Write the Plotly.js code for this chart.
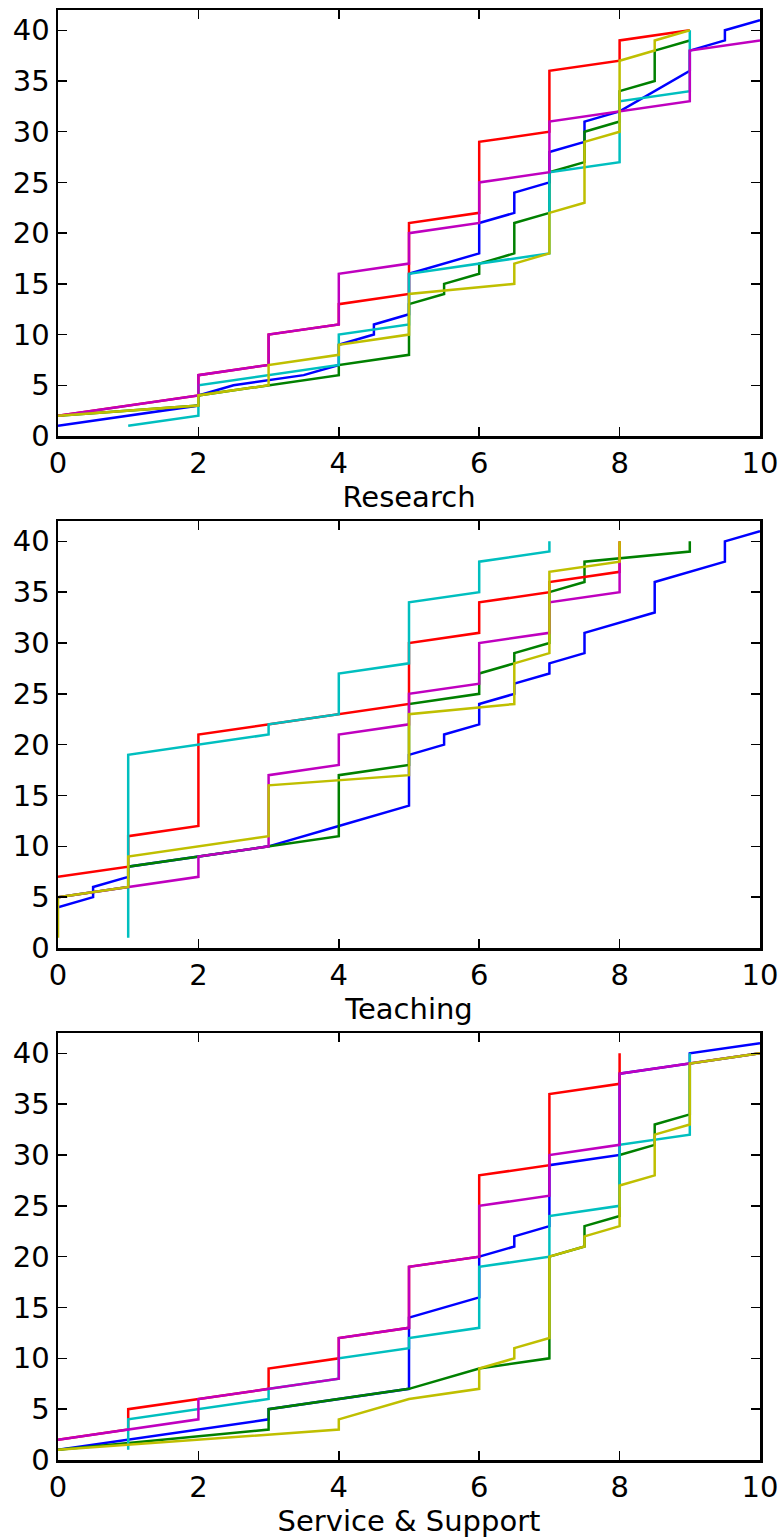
<!DOCTYPE html>
<html><head><meta charset="utf-8">
<script src="https://cdn.plot.ly/plotly-3.0.1.min.js"></script>
<style>html,body{margin:0;padding:0;background:#fff}#chart{width:784px;height:1539px}</style>
</head><body><div id="chart"></div>
<script>
// ---- Research ----
const research_blue_x = [0,2,2,2.5,3.5,4,4,4.5,4.5,5,5,6,6,6.5,6.5,7,7,7.5,7.5,8,9,9,9.5,9.5,10];
const research_blue_y = [1,3,4,5,6,7,9,10,11,12,16,18,21,22,24,25,28,29,31,32,36,38,39,40,41];
const research_green_x = [0,2,2,3,4,4,5,5,5.5,5.5,6,6,6.5,6.5,7,7,7.5,7.5,8,8,8.5,8.5,9];
const research_green_y = [2,3,4,5,6,7,8,13,14,15,16,17,18,21,22,26,27,30,31,34,35,38,39];
const research_red_x = [0,2,2,3,3,4,4,5,5,6,6,7,7,8,8,9];
const research_red_y = [2,4,6,7,10,11,13,14,21,22,29,30,36,37,39,40];
const research_cyan_x = [1,2,2,3,4,4,5,5,6,7,7,8,8,9,9];
const research_cyan_y = [1,2,5,6,7,10,11,16,17,18,26,27,33,34,40];
const research_magenta_x = [0,2,2,3,3,4,4,5,5,6,6,7,7,8,9,9,10];
const research_magenta_y = [2,4,6,7,10,11,16,17,20,21,25,26,31,32,33,38,39];
const research_yellow_x = [0,2,2,3,3,4,4,5,5,6.5,6.5,7,7,7.5,7.5,8,8,8.5,8.5,9];
const research_yellow_y = [2,3,4,5,7,8,9,10,14,15,17,18,22,23,29,30,37,38,39,40];

// ---- Teaching ----
const teaching_blue_x = [0,0.5,0.5,1,1,3,4,5,5,5.5,5.5,6,6,6.5,6.5,7,7,7.5,7.5,8.5,8.5,9.5,9.5,10];
const teaching_blue_y = [4,5,6,7,8,10,12,14,19,20,21,22,24,25,26,27,28,29,31,33,36,38,40,41];
const teaching_green_x = [0,1,1,3,4,4,5,5,6,6,6.5,6.5,7,7,7.5,7.5,9,9];
const teaching_green_y = [5,6,8,10,11,17,18,24,25,27,28,29,30,35,36,38,39,40];
const teaching_red_x = [0,1,1,2,2,3,4,5,5,6,6,7,7,8,8];
const teaching_red_y = [7,8,11,12,21,22,23,24,30,31,34,35,36,37,40];
const teaching_cyan_x = [1,1,3,3,4,4,5,5,6,6,7,7];
const teaching_cyan_y = [1,19,21,22,23,27,28,34,35,38,39,40];
const teaching_magenta_x = [0,1,2,2,3,3,4,4,5,5,6,6,7,7,8,8];
const teaching_magenta_y = [5,6,7,9,10,17,18,21,22,25,26,30,31,34,35,38];
const teaching_yellow_x = [0,0,1,1,3,3,5,5,6.5,6.5,7,7,8,8];
const teaching_yellow_y = [1,5,6,9,11,16,17,23,24,28,29,37,38,40];

// ---- Service & Support ----
const service_blue_x = [0,3,3,5,5,6,6,6.5,6.5,7,7,8,8,9,9,10];
const service_blue_y = [1,4,5,7,14,16,20,21,22,23,29,30,38,39,40,41];
const service_green_x = [0,3,3,5,6,7,7,7.5,7.5,8,8,8.5,8.5,9,9,10];
const service_green_y = [1,3,5,7,9,10,20,21,23,24,30,31,33,34,39,40];
const service_red_x = [0,1,1,2,3,3,4,4,5,5,6,6,7,7,8,8];
const service_red_y = [2,3,5,6,7,9,10,12,13,19,20,28,29,36,37,40];
const service_cyan_x = [1,1,3,3,4,4,5,5,6,6,7,7,8,8,9,9];
const service_cyan_y = [1,4,6,7,8,10,11,12,13,19,20,24,25,31,32,40];
const service_magenta_x = [0,1,2,2,3,4,4,5,5,6,6,7,7,8,8,9,10];
const service_magenta_y = [2,3,4,6,7,8,12,13,19,20,25,26,30,31,38,39,40];
const service_yellow_x = [0,4,4,5,6,6,6.5,6.5,7,7,7.5,7.5,8,8,8.5,8.5,9,9,10];
const service_yellow_y = [1,3,4,6,7,9,10,11,12,20,21,22,23,27,28,32,33,39,40];

const panelTitles = ["Research", "Teaching", "Service & Support"];
const xTickVals = [0,2,4,6,8,10];
const yTickVals = [0,5,10,15,20,25,30,35,40];

const colors = {blue:'#0000ff', green:'#008000', red:'#ff0000', cyan:'#00bfbf', magenta:'#bf00bf', yellow:'#bfbf00'};
const panels = [
  {blue:[research_blue_x,research_blue_y], green:[research_green_x,research_green_y], red:[research_red_x,research_red_y],
   cyan:[research_cyan_x,research_cyan_y], magenta:[research_magenta_x,research_magenta_y], yellow:[research_yellow_x,research_yellow_y]},
  {blue:[teaching_blue_x,teaching_blue_y], green:[teaching_green_x,teaching_green_y], red:[teaching_red_x,teaching_red_y],
   cyan:[teaching_cyan_x,teaching_cyan_y], magenta:[teaching_magenta_x,teaching_magenta_y], yellow:[teaching_yellow_x,teaching_yellow_y]},
  {blue:[service_blue_x,service_blue_y], green:[service_green_x,service_green_y], red:[service_red_x,service_red_y],
   cyan:[service_cyan_x,service_cyan_y], magenta:[service_magenta_x,service_magenta_y], yellow:[service_yellow_x,service_yellow_y]}
];
const order = ['blue','green','red','cyan','magenta','yellow'];

const traces = [];
panels.forEach((p, i) => {
  const sfx = i === 0 ? '' : String(i + 1);
  order.forEach(c => {
    traces.push({x: p[c][0], y: p[c][1], type: 'scatter', mode: 'lines',
      line: {color: colors[c], width: 2.5}, xaxis: 'x' + sfx, yaxis: 'y' + sfx,
      hoverinfo: 'skip', showlegend: false, cliponaxis: true});
  });
});

const W = 784, H = 1539;
const plotBoxes = [[10, 436], [521, 948], [1033, 1460]];
const font = {family: 'DejaVu Sans', size: 29, color: '#000'};
const layout = {
  width: W, height: H, margin: {l: 0, r: 0, t: 0, b: 0},
  paper_bgcolor: '#fff', plot_bgcolor: '#fff', showlegend: false, font: font
};
plotBoxes.forEach((b, i) => {
  const sfx = i === 0 ? '' : String(i + 1);
  const dom = [1 - b[1] / H, 1 - b[0] / H];
  layout['xaxis' + sfx] = {
    domain: [58 / W, 760 / W], range: [0, 10], tickvals: xTickVals, ticktext: xTickVals.map(String),
    ticks: 'inside', ticklen: 9, tickwidth: 1.5, tickcolor: '#000', mirror: 'allticks',
    showline: true, linecolor: '#000', linewidth: 2.5, showgrid: false, zeroline: false,
    anchor: 'y' + sfx, automargin: false, tickfont: font,
    title: {text: panelTitles[i], font: font, standoff: 5}
  };
  layout['yaxis' + sfx] = {
    domain: dom, range: [0, 42], tickvals: yTickVals, ticktext: yTickVals.map(String),
    ticks: 'inside', ticklen: 9, tickwidth: 1.5, tickcolor: '#000', mirror: 'allticks',
    showline: true, linecolor: '#000', linewidth: 2.5, showgrid: false, zeroline: false,
    anchor: 'x' + sfx, automargin: false, tickfont: font
  };
});

Plotly.newPlot('chart', traces, layout, {staticPlot: true, displayModeBar: false});
</script></body></html>
